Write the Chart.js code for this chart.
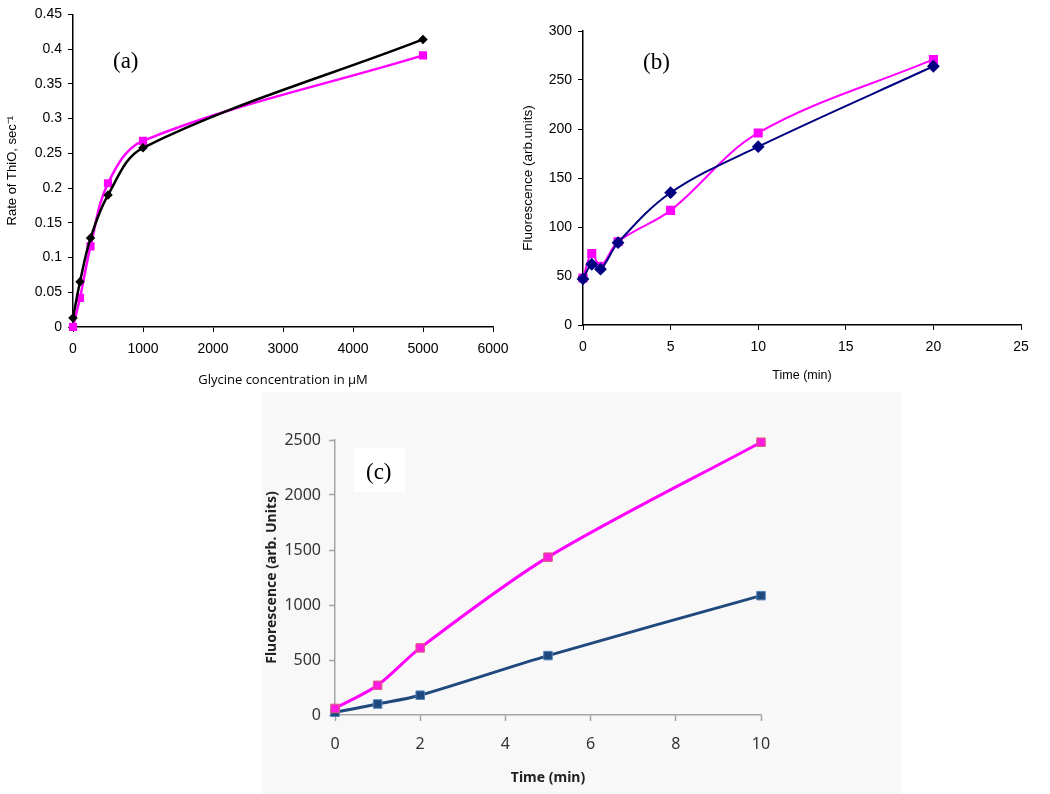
<!DOCTYPE html>
<html>
<head>
<meta charset="utf-8">
<script src="https://cdn.jsdelivr.net/npm/chart.js@4/dist/chart.umd.min.js"></script>
<style>
  body { margin: 0; background: #fff; }
  #wrap { position: relative; width: 1050px; height: 794px; overflow: hidden; }
  canvas { position: absolute; }
  .tag { position: absolute; font-family: "Liberation Serif", "Times New Roman", serif; font-size: 23px; color: #000; }
  #bgC { position: absolute; left: 262px; top: 392px; width: 640px; height: 402px; background: #f8f8f8; }
  #boxC { position: absolute; left: 354px; top: 448px; width: 51px; height: 44px; background: #fff; }
</style>
</head>
<body>
<div id="wrap">
  <div id="bgC"></div>
  <div id="boxC"></div>
  <canvas id="chartA" width="525" height="390" style="left:0;top:0"></canvas>
  <canvas id="chartB" width="540" height="390" style="left:510px;top:0"></canvas>
  <canvas id="chartC" width="540" height="404" style="left:260px;top:390px"></canvas>
  <div class="tag" style="left:113px;top:48px">(a)</div>
  <div class="tag" style="left:643px;top:49px">(b)</div>
  <div class="tag" style="left:366px;top:459px">(c)</div>
</div>
<script>
// ==============================
// data
// ==============================
const concA = [0, 100, 250, 500, 1000, 5000];
const rateBlackA = [0.013, 0.065, 0.128, 0.19, 0.258, 0.414];
const ratePinkA = [0, 0.042, 0.116, 0.207, 0.268, 0.391];

const timeB = [0, 0.5, 1, 2, 5, 10, 20];
const fluorNavyB = [47, 62, 57, 84, 135, 182, 264];
const fluorPinkB = [48, 73, 60, 85, 117, 196, 271];

const timeC = [0, 1, 2, 5, 10];
const fluorPinkC = [60, 270, 610, 1435, 2480];
const fluorNavyC = [25, 100, 180, 540, 1085];

const pts = (xs, ys) => xs.map((x, i) => ({ x, y: ys[i] }));

const ARIAL = "'Liberation Sans', Arial, sans-serif";
const CALIBRI = "'Noto Sans', 'Open Sans', sans-serif";

// ==============================
// common axis style
// ==============================
function axis(opt) {
  return {
    type: "linear",
    min: opt.min,
    max: opt.max,
    border: { color: opt.line, width: 1.5 },
    ticks: {
      stepSize: opt.step,
      color: opt.text,
      padding: opt.pad,
      font: { family: opt.font, size: opt.size },
      callback: (v) => String(+v.toFixed(2)),
    },
    grid: {
      drawOnChartArea: false,
      drawTicks: true,
      tickLength: opt.tick || 5,
      tickColor: opt.line,
      tickWidth: opt.tickWidth || 1,
    },
    title: {
      display: true,
      text: opt.title,
      color: opt.titleColor || "#000",
      font: { family: opt.titleFont || opt.font, size: opt.titleSize, weight: opt.bold ? "bold" : "normal" },
      padding: opt.titlePad,
    },
    afterFit(scale) {
      if (opt.horizontal) scale.height = opt.box;
      else scale.width = opt.box;
    },
  };
}

function baseOptions(padding, x, y) {
  return {
    responsive: false,
    animation: false,
    layout: { padding: padding },
    plugins: { legend: { display: false }, tooltip: { enabled: false } },
    scales: { x: x, y: y },
  };
}

// ==============================
// (a)
// ==============================
new Chart(document.getElementById("chartA"), {
  type: "line",
  data: {
    datasets: [
      {
        data: pts(concA, rateBlackA),
        borderColor: "#000",
        backgroundColor: "#000",
        borderWidth: 2.5,
        pointStyle: "rectRot",
        pointRadius: 3,
        tension: 0.35,
        clip: false,
      },
      {
        data: pts(concA, ratePinkA),
        borderColor: "#ff00ff",
        backgroundColor: "#ff00ff",
        borderWidth: 2.5,
        pointStyle: "rect",
        pointRadius: 4,
        tension: 0.35,
        clip: false,
      },
    ],
  },
  options: baseOptions(
    { top: 14, right: 32, left: 0, bottom: 0 },
    axis({
      horizontal: true, box: 63, min: 0, max: 6000, step: 1000,
      line: "#000", text: "#000", font: ARIAL, size: 14, pad: 9,
      title: "Glycine concentration in μM", titleFont: "'Open Sans', sans-serif",
      titleSize: 13, titlePad: { top: 0, bottom: 2 },
    }),
    axis({
      horizontal: false, box: 73, min: 0, max: 0.45, step: 0.05,
      line: "#000", text: "#000", font: ARIAL, size: 14, pad: 6,
      title: "Rate of ThiO, sec⁻¹", titleSize: 13, titlePad: { top: 5, bottom: 0 },
    })
  ),
});

// ==============================
// (b)
// ==============================
new Chart(document.getElementById("chartB"), {
  type: "line",
  data: {
    datasets: [
      {
        data: pts(timeB, fluorNavyB),
        borderColor: "#000080",
        backgroundColor: "#000080",
        borderWidth: 2,
        pointStyle: "rectRot",
        pointRadius: 5,
        tension: 0.35,
        clip: false,
      },
      {
        data: pts(timeB, fluorPinkB),
        borderColor: "#ff00ff",
        backgroundColor: "#ff00ff",
        borderWidth: 2,
        pointStyle: "rect",
        pointRadius: 5,
        tension: 0.35,
        clip: false,
      },
    ],
  },
  options: baseOptions(
    { top: 31, right: 29, left: 0, bottom: 0 },
    axis({
      horizontal: true, box: 65, min: 0, max: 25, step: 5,
      line: "#000", text: "#000", font: ARIAL, size: 14, pad: 9,
      title: "Time (min)", titleSize: 12.5, titlePad: { top: 0, bottom: 7 },
    }),
    axis({
      horizontal: false, box: 73, min: 0, max: 300, step: 50,
      line: "#000", text: "#000", font: ARIAL, size: 14, pad: 6,
      title: "Fluorescence (arb.units)", titleSize: 13.5, titlePad: { top: 10, bottom: 0 },
    })
  ),
});

// ==============================
// (c)
// ==============================
new Chart(document.getElementById("chartC"), {
  type: "line",
  data: {
    datasets: [
      {
        data: pts(timeC, fluorPinkC),
        borderColor: "#ff00ff",
        backgroundColor: "#ff1ae0",
        pointBorderColor: "#d9607a",
        pointBorderWidth: 1,
        borderWidth: 3,
        pointStyle: "rect",
        pointRadius: 6,
        tension: 0.3,
        clip: false,
      },
      {
        data: pts(timeC, fluorNavyC),
        borderColor: "#1f497d",
        backgroundColor: "#1f497d",
        pointBorderColor: "#4f81bd",
        pointBorderWidth: 1,
        borderWidth: 3,
        pointStyle: "rect",
        pointRadius: 6,
        tension: 0.3,
        clip: false,
      },
    ],
  },
  options: baseOptions(
    { top: 50, right: 39, left: 0, bottom: 0 },
    axis({
      horizontal: true, box: 79, min: 0, max: 10, step: 2,
      line: "#a6a6a6", text: "#333", font: CALIBRI, size: 16, pad: 14,
      tick: 6, tickWidth: 1.5,
      title: "Time (min)", titleColor: "#222", titleSize: 14, bold: true,
      titlePad: { top: 0, bottom: 8 },
    }),
    axis({
      horizontal: false, box: 75, min: 0, max: 2500, step: 500,
      line: "#a6a6a6", text: "#333", font: CALIBRI, size: 16, pad: 8,
      tick: 6, tickWidth: 1.5,
      title: "Fluorescence (arb. Units)", titleColor: "#222", titleSize: 14, bold: true,
      titlePad: { top: 4, bottom: 0 },
    })
  ),
});
</script>
</body>
</html>
